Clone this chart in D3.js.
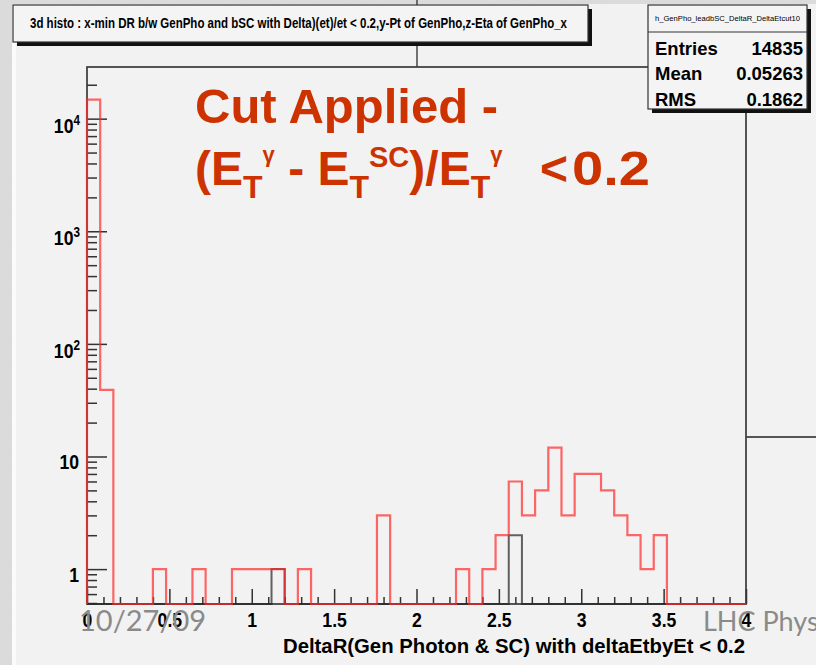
<!DOCTYPE html>
<html>
<head>
<meta charset="utf-8">
<script src="https://cdn.jsdelivr.net/npm/d3@7"></script>
<style>
  html, body { margin: 0; padding: 0; background: #f2f2f2; }
  svg { display: block; }
  .root-txt { font-family: "Liberation Sans", Arial, Helvetica, sans-serif; font-weight: bold; fill: #000; }
</style>
</head>
<body>
<div id="chart"></div>
<script>
// Histogram: DeltaR between generated photon and supercluster, 50 bins over [0, 4]
const xRange = [0, 4];
const nBins = 50;
// counts after the deltaEt/Et < 0.2 cut (red)
const cutCounts = [
  14726, 39, 0, 0, 0, 1, 0, 0, 1, 0,
  0, 1, 1, 1, 1, 0, 1, 0, 0, 0,
  0, 0, 3, 0, 0, 0, 0, 0, 1, 0,
  1, 2, 6, 3, 5, 12, 3, 7, 7, 5,
  3, 2, 1, 2, 0, 0, 0, 0, 0, 0
];
// overlaid reference histogram (black)
const refCounts = [
  0, 0, 0, 0, 0, 0, 0, 0, 0, 0,
  0, 0, 0, 0, 1, 0, 0, 0, 0, 0,
  0, 0, 0, 0, 0, 0, 0, 0, 0, 0,
  0, 0, 2, 0, 0, 0, 0, 0, 0, 0,
  0, 0, 0, 0, 0, 0, 0, 0, 0, 0
];
const yRange = [0.49, 28750];
const xMajorTicks = [0, 0.5, 1, 1.5, 2, 2.5, 3, 3.5, 4];
const xTickLabels = ["0", "0.5", "1", "1.5", "2", "2.5", "3", "3.5", "4"];
const yMajorTicks = [1, 10, 100, 1000, 10000];
const yTickBase = ["1", "10", "10", "10", "10"];
const yTickExp = ["", "", "2", "3", "4"];
const statNames = ["Entries", "Mean", "RMS"];
const statValues = ["14835", "0.05263", "0.1862"];

const W = 816, H = 665;
const frame = { left: 87, right: 746, top: 67, bottom: 604 };

const svg = d3.select("#chart").append("svg")
  .attr("width", W).attr("height", H);

// slide background
const defs = svg.append("defs");
const grain = defs.append("filter").attr("id", "grain")
  .attr("x", 0).attr("y", 0).attr("width", "100%").attr("height", "100%");
grain.append("feTurbulence").attr("type", "fractalNoise")
  .attr("baseFrequency", 0.9).attr("numOctaves", 2).attr("seed", 4).attr("result", "n");
grain.append("feColorMatrix").attr("in", "n").attr("type", "matrix")
  .attr("values", "0 0 0 0 0.55  0 0 0 0 0.55  0 0 0 0 0.55  0 0 0 0.55 0");

svg.append("rect").attr("width", W).attr("height", H).attr("fill", "#f2f2f2");
svg.append("rect").attr("x", 0).attr("y", 0).attr("width", 12).attr("height", H).attr("fill", "#dedede");
svg.append("rect").attr("x", 0).attr("y", 0).attr("width", 12).attr("height", H)
  .attr("filter", "url(#grain)").attr("opacity", 0.45);
svg.append("rect").attr("x", 0).attr("y", 0).attr("width", W).attr("height", 4).attr("fill", "#dedede");
svg.append("rect").attr("x", 0).attr("y", 0).attr("width", W).attr("height", 4)
  .attr("filter", "url(#grain)").attr("opacity", 0.45);
svg.append("rect").attr("x", 12).attr("y", 4).attr("width", 4).attr("height", H - 4).attr("fill", "#fbfbfb");

// pad connector lines
svg.append("line").attr("x1", 417).attr("x2", 417).attr("y1", 0).attr("y2", frame.top)
  .attr("stroke", "#444").attr("stroke-width", 1.5);
svg.append("line").attr("x1", frame.right).attr("x2", W).attr("y1", 437).attr("y2", 437)
  .attr("stroke", "#555").attr("stroke-width", 2);

// scales
const x = d3.scaleLinear().domain(xRange).range([frame.left, frame.right]);
const y = d3.scaleLog().domain(yRange).range([frame.bottom, frame.top]);
const binW = (xRange[1] - xRange[0]) / nBins;

// frame
svg.append("rect")
  .attr("x", frame.left).attr("y", frame.top)
  .attr("width", frame.right - frame.left).attr("height", frame.bottom - frame.top)
  .attr("fill", "none").attr("stroke", "#444").attr("stroke-width", 1.8);

// x axis ticks (inside the frame)
const xMinor = d3.range(0, 41).map(i => i / 10).filter(v => !xMajorTicks.some(m => Math.abs(m - v) < 1e-9));
svg.append("g").attr("transform", `translate(0,${frame.bottom})`)
  .call(d3.axisBottom(x).tickValues(xMinor).tickSize(-7).tickFormat(""))
  .call(g => g.select(".domain").remove())
  .selectAll("line").attr("stroke", "#333").attr("stroke-width", 1.5);

const xAxis = svg.append("g").attr("transform", `translate(0,${frame.bottom})`)
  .call(d3.axisBottom(x).tickValues(xMajorTicks).tickSize(-15).tickPadding(4)
    .tickFormat((d, i) => xTickLabels[i]));
xAxis.select(".domain").remove();
xAxis.selectAll("line").attr("stroke", "#333").attr("stroke-width", 1.5);
xAxis.selectAll("text")
  .attr("class", "root-txt")
  .style("font-size", "21px")
  .attr("y", 23).attr("dy", 0)
  .attr("transform", "scale(0.84,1)");

// y axis ticks (inside the frame)
const yMinor = [];
for (let e = -1; e <= 4; e++) {
  for (let m = 2; m <= 9; m++) {
    const v = m * Math.pow(10, e);
    if (v >= yRange[0] && v <= yRange[1]) yMinor.push(v);
  }
}
svg.append("g").attr("transform", `translate(${frame.left},0)`)
  .call(d3.axisLeft(y).tickValues(yMinor).tickSize(-10).tickFormat(""))
  .call(g => g.select(".domain").remove())
  .selectAll("line").attr("stroke", "#333").attr("stroke-width", 1.5);
svg.append("g").attr("transform", `translate(${frame.left},0)`)
  .call(d3.axisLeft(y).tickValues(yMajorTicks).tickSize(-20).tickFormat(""))
  .call(g => g.select(".domain").remove())
  .selectAll("line").attr("stroke", "#333").attr("stroke-width", 1.5);

// y tick labels: powers of ten with superscript exponents
yMajorTicks.forEach((v, i) => {
  const hasExp = yTickExp[i] !== "";
  const xr = hasExp ? 80 : 79;
  const base = y(v) + (hasExp ? 14 : 12.5);
  const t = svg.append("text").attr("class", "root-txt")
    .attr("transform", `translate(${xr},${base}) scale(0.84,1)`)
    .attr("text-anchor", "end")
    .style("font-size", "21px");
  t.append("tspan").text(yTickBase[i]);
  if (hasExp) {
    t.append("tspan").attr("dy", -8).style("font-size", "14px").text(yTickExp[i]);
  }
});

// histogram outlines; empty bins sit on the lower edge of the log range
function stepPath(counts) {
  const lvl = c => (c > 0 ? y(c) : y(yRange[0]));
  let d = `M${x(xRange[0])},${y(yRange[0])}`;
  counts.forEach((c, i) => {
    const x0 = x(xRange[0] + i * binW), x1 = x(xRange[0] + (i + 1) * binW);
    d += `L${x0},${lvl(c)}L${x1},${lvl(c)}`;
  });
  d += `L${x(xRange[1])},${y(yRange[0])}`;
  return d;
}
svg.append("path").attr("d", stepPath(refCounts))
  .attr("fill", "none").attr("stroke", "#222").attr("stroke-width", 2).attr("opacity", 0.7);
svg.append("path").attr("d", stepPath(cutCounts))
  .attr("fill", "none").attr("stroke", "#ff2a2a").attr("stroke-width", 2.2).attr("opacity", 0.7);

// axis title
svg.append("text").attr("class", "root-txt")
  .attr("x", 283).attr("y", 653)
  .attr("textLength", 462).attr("lengthAdjust", "spacingAndGlyphs")
  .style("font-size", "21px")
  .text("DeltaR(Gen Photon & SC) with deltaEtbyEt < 0.2");

// title box
svg.append("rect").attr("x", 17).attr("y", 9).attr("width", 575).attr("height", 37).attr("fill", "#111");
svg.append("rect").attr("x", 13).attr("y", 5).attr("width", 575).attr("height", 37)
  .attr("fill", "#f4f4f4").attr("stroke", "#333").attr("stroke-width", 1.2);
svg.append("text").attr("class", "root-txt")
  .attr("x", 30).attr("y", 27.5)
  .attr("textLength", 537).attr("lengthAdjust", "spacingAndGlyphs")
  .style("font-size", "14px")
  .text("3d histo : x-min DR b/w GenPho and bSC with Delta)(et)/et < 0.2,y-Pt of GenPho,z-Eta of GenPho_x");

// statistics box
svg.append("rect").attr("x", 652).attr("y", 9).attr("width", 159).attr("height", 104).attr("fill", "#111");
svg.append("rect").attr("x", 648).attr("y", 5).attr("width", 159).attr("height", 104)
  .attr("fill", "#f4f4f4").attr("stroke", "#333").attr("stroke-width", 1.2);
svg.append("line").attr("x1", 648).attr("x2", 807).attr("y1", 32).attr("y2", 32)
  .attr("stroke", "#333").attr("stroke-width", 1.2);
svg.append("text").attr("class", "root-txt")
  .attr("x", 655).attr("y", 20.5)
  .attr("textLength", 145).attr("lengthAdjust", "spacingAndGlyphs")
  .style("font-size", "8px").style("font-weight", "normal")
  .text("h_GenPho_leadbSC_DeltaR_DeltaEtcut10");
statNames.forEach((n, i) => {
  const by = 55 + i * 25.3;
  svg.append("text").attr("class", "root-txt").attr("x", 655).attr("y", by)
    .style("font-size", "18.5px").text(n);
  svg.append("text").attr("class", "root-txt").attr("x", 803).attr("y", by)
    .attr("text-anchor", "end").style("font-size", "18.5px").text(statValues[i]);
});

// cut annotation
const red = "#cc3300";
const ann = svg.append("g").attr("fill", red)
  .style("font-family", "'Liberation Sans', Arial, sans-serif").style("font-weight", "bold");
ann.append("text").attr("x", 195).attr("y", 123).style("font-size", "48px")
  .attr("textLength", 303).attr("lengthAdjust", "spacingAndGlyphs").text("Cut Applied -");

// (E_T^γ - E_T^SC)/E_T^γ with sub- and superscripts
const formula = ann.append("text").attr("x", 195).attr("y", 185).style("font-size", "48px");
const seq = [
  { t: "(E", s: 48, dy: 0 },
  { t: "T", s: 32, dy: 13 },
  { t: "γ", s: 22, dy: -36 },
  { t: " - E", s: 48, dy: 23 },
  { t: "T", s: 32, dy: 13 },
  { t: "SC", s: 29, dy: -31 },
  { t: ")/E", s: 48, dy: 18 },
  { t: "T", s: 32, dy: 13 },
  { t: "γ", s: 22, dy: -36 }
];
seq.forEach(p => {
  formula.append("tspan").attr("dy", p.dy).style("font-size", p.s + "px").text(p.t);
});
ann.append("text").attr("x", 540).attr("y", 185).style("font-size", "48px").text("<");
ann.append("text").attr("x", 572).attr("y", 185).style("font-size", "48px")
  .attr("textLength", 78).attr("lengthAdjust", "spacingAndGlyphs").text("0.2");

// slide footer
svg.append("text").attr("x", 79).attr("y", 631)
  .style("font-family", "Lato, 'Open Sans', sans-serif").style("font-size", "29px")
  .attr("fill", "#8a8a8a").text("10/27/09");
svg.append("text").attr("x", 703).attr("y", 631)
  .style("font-family", "Lato, 'Open Sans', sans-serif").style("font-size", "27px")
  .attr("fill", "#8a8a8a").text("LHC Physics");
</script>
</body>
</html>
